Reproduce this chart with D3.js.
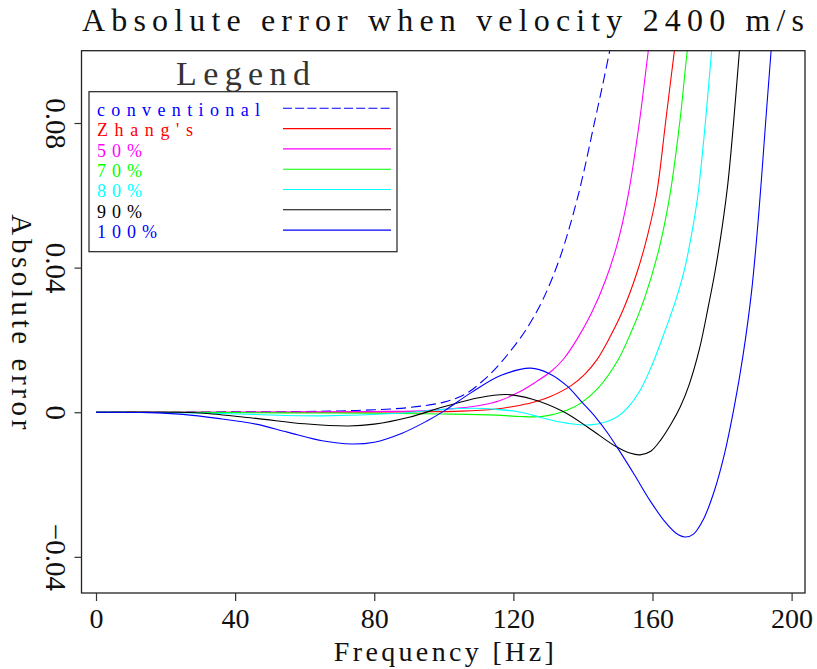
<!DOCTYPE html>
<html>
<head>
<meta charset="utf-8">
<script src="https://cdn.jsdelivr.net/npm/d3@7"></script>
<style>
  html, body { margin: 0; padding: 0; background: #fff; }
  svg { display: block; }
  text { font-family: "Liberation Serif", "DejaVu Serif", serif; }
</style>
</head>
<body>
<svg id="chart" width="817" height="669"></svg>
<script>
// Absolute dispersion error of the extrapolation operators, [frequency Hz, error]
const conventional = [[0,0],[20,0],[40,0.0001],[60,0.0002],[75,0.0005],[90,0.0013],[100,0.0028],[106,0.0049],[111,0.0085],[115,0.0122],[118.8,0.0165],[123.5,0.0226],[128.5,0.0312],[133.3,0.0425],[138.5,0.0595],[143.4,0.0805],[147.7,0.1],[150.5,0.115]];
const zhangs = [[0,0],[60,0],[90,0.0001],[105,0.0003],[115,0.0009],[120,0.0016],[125.5,0.0027],[130.5,0.0043],[136.5,0.0073],[140.5,0.0105],[144,0.0145],[147.5,0.0203],[151.5,0.0282],[155.5,0.0385],[158.6,0.049],[161.2,0.0605],[163.8,0.0805],[166.3,0.1],[167.8,0.111]];
const pct50 = [[0,0],[40,0],[60,0.0001],[80,0.0002],[95,0.0005],[105,0.0012],[111,0.002],[116,0.0032],[121.5,0.0055],[126.5,0.0084],[131,0.0114],[134.5,0.0148],[138.5,0.0205],[142.5,0.0275],[146.5,0.0365],[150,0.047],[153,0.06],[156.2,0.08],[158.8,0.1],[160.6,0.113]];
const pct70 = [[0,0],[40,-0.0001],[60,-0.0002],[80,-0.0003],[100,-0.0005],[115,-0.0008],[122,-0.0012],[128,-0.0012],[132,-0.0005],[135.5,0.0006],[139.5,0.0026],[144.5,0.0068],[150,0.0143],[153.7,0.0218],[157.7,0.0315],[161.7,0.0445],[165,0.06],[168,0.0815],[170,0.1],[171.7,0.112]];
const pct80 = [[0,0],[30,-0.0002],[45,-0.0006],[65,-0.001],[87,-0.0003],[100,0.0008],[108,0.0011],[115,0.0008],[121,0.0002],[125.5,-0.0008],[130.5,-0.0021],[136.5,-0.0032],[142,-0.0035],[146.5,-0.0027],[150,-0.0012],[153,0.0014],[156.3,0.0058],[159.5,0.0122],[163.6,0.0225],[166.7,0.031],[169.2,0.0395],[171.2,0.049],[173,0.0597],[175.1,0.079],[177,0.1],[178.2,0.112]];
const pct90 = [[0,0],[20,0],[30,-0.0002],[46,-0.0017],[60,-0.0032],[72.6,-0.0038],[80,-0.0033],[90,-0.0014],[100,0.0015],[110,0.004],[118,0.0049],[125.5,0.0036],[134.3,0.0002],[141.5,-0.0042],[149.5,-0.0095],[153.5,-0.0113],[156.4,-0.0118],[159.5,-0.0108],[162.5,-0.0075],[165.5,-0.003],[168,0.0015],[170.5,0.0075],[173.5,0.0175],[176,0.029],[178,0.039],[180,0.051],[181.7,0.0635],[183.3,0.08],[185,0.1],[186.2,0.113]];
const pct100 = [[0,0],[15,-0.0001],[25,-0.0006],[35,-0.0017],[46,-0.0033],[55,-0.0055],[65,-0.0079],[73.5,-0.0088],[80,-0.0083],[88,-0.0058],[95,-0.0025],[100,0.0003],[108,0.0055],[116.5,0.0102],[125,0.0122],[130.5,0.0106],[135.5,0.0072],[139.5,0.003],[143.5,-0.0012],[147,-0.0056],[150.5,-0.0107],[154.8,-0.0173],[159.2,-0.0243],[163.5,-0.0302],[166.7,-0.0334],[169.3,-0.0345],[171.8,-0.0337],[174.7,-0.0295],[177.7,-0.022],[180.7,-0.0115],[183.5,0.0015],[186,0.0155],[188.5,0.0335],[190.6,0.0555],[192.4,0.0785],[194.1,0.1],[195.3,0.115]];

const seriesNames = ["conventional", "Zhang's", "50%", "70%", "80%", "90%", "100%"];
const seriesData = [conventional, zhangs, pct50, pct70, pct80, pct90, pct100];
const seriesColors = ["#0000ff", "#ff0000", "#ff00ff", "#00ff00", "#00ffff", "#000000", "#0000ff"];
const seriesDashed = [true, false, false, false, false, false, false];

const xTicks = [0, 40, 80, 120, 160, 200];
const yTicks = [-0.04, 0, 0.04, 0.08];
const yTickLabels = ["\u22120.04", "0", "0.04", "0.08"];

const titleText = "Absolute error when velocity 2400 m/s";
const xLabel = "Frequency [Hz]";
const yLabel = "Absolute error";

const svg = d3.select("#chart");
const box = { left: 81.5, right: 805, top: 50.7, bottom: 593 };

const x = d3.scaleLinear().domain([-4.17, 203.85]).range([box.left, box.right]);
const y = d3.scaleLinear().domain([-0.05, 0.1]).range([box.bottom, box.top]);

// title
svg.append("text")
  .attr("x", 82).attr("y", 31)
  .attr("font-size", 32)
  .attr("textLength", 722).attr("lengthAdjust", "spacing")
  .attr("fill", "#111")
  .text(titleText);

// clip region for the curves
svg.append("defs").append("clipPath").attr("id", "plot-clip")
  .append("rect")
  .attr("x", box.left).attr("y", box.top)
  .attr("width", box.right - box.left).attr("height", box.bottom - box.top);

const line = d3.line()
  .x(d => x(d[0]))
  .y(d => y(d[1]))
  .curve(d3.curveCatmullRom.alpha(0.5));

const curves = svg.append("g").attr("clip-path", "url(#plot-clip)");
seriesData.forEach((data, i) => {
  curves.append("path")
    .datum(data)
    .attr("d", line)
    .attr("fill", "none")
    .attr("stroke", seriesColors[i])
    .attr("stroke-width", 1.1)
    .attr("stroke-dasharray", seriesDashed[i] ? "10,5" : null);
});

// frame
svg.append("rect")
  .attr("x", box.left).attr("y", box.top)
  .attr("width", box.right - box.left).attr("height", box.bottom - box.top)
  .attr("fill", "none").attr("stroke", "#222").attr("stroke-width", 1.3);

// x axis
const xAxis = svg.append("g")
  .attr("transform", `translate(0,${box.bottom})`)
  .call(d3.axisBottom(x).tickValues(xTicks).tickSize(8).tickFormat(d3.format("d")));
xAxis.select(".domain").remove();
xAxis.selectAll(".tick line").attr("stroke", "#333").attr("stroke-width", 1.2);
xAxis.selectAll(".tick text")
  .attr("font-family", "Liberation Serif, DejaVu Serif, serif")
  .attr("font-size", 28).attr("fill", "#111")
  .attr("dy", null).attr("y", 35);

// y axis with labels turned to read downward
const yAxis = svg.append("g")
  .attr("transform", `translate(${box.left},0)`)
  .call(d3.axisLeft(y).tickValues(yTicks).tickSize(7).tickFormat((d, i) => yTickLabels[i]));
yAxis.select(".domain").remove();
yAxis.selectAll(".tick line").attr("stroke", "#333").attr("stroke-width", 1.2);
yAxis.selectAll(".tick text")
  .attr("font-family", "Liberation Serif, DejaVu Serif, serif")
  .attr("font-size", 29).attr("fill", "#111")
  .attr("x", null).attr("dy", null)
  .attr("text-anchor", "middle")
  .attr("transform", "translate(-36,0) rotate(90)");

// axis titles
svg.append("text")
  .attr("x", (x(0) + x(200)) / 2).attr("y", 661)
  .attr("text-anchor", "middle")
  .attr("font-size", 28)
  .attr("textLength", 220).attr("lengthAdjust", "spacing")
  .attr("fill", "#111")
  .text(xLabel);

svg.append("text")
  .attr("transform", `translate(12,${(box.top + box.bottom) / 2}) rotate(90)`)
  .attr("text-anchor", "middle")
  .attr("font-size", 29)
  .attr("textLength", 215).attr("lengthAdjust", "spacing")
  .attr("fill", "#111")
  .text(yLabel);

// legend
svg.append("text")
  .attr("x", 176).attr("y", 85)
  .attr("font-size", 34)
  .attr("textLength", 134).attr("lengthAdjust", "spacing")
  .attr("fill", "#333")
  .text("Legend");

svg.append("rect")
  .attr("x", 89).attr("y", 91.7).attr("width", 308).attr("height", 160)
  .attr("fill", "#fff").attr("stroke", "#222").attr("stroke-width", 1.2);

const legendWidths = [163, 96, 45, 45, 45, 45, 60];
const legendRows = svg.append("g");
seriesNames.forEach((name, i) => {
  const base = 116 + i * 20.3;
  legendRows.append("text")
    .attr("x", 97).attr("y", base)
    .attr("font-size", 18)
    .attr("fill", seriesColors[i])
    .attr("textLength", legendWidths[i])
    .attr("lengthAdjust", "spacing")
    .text(name);
  legendRows.append("line")
    .attr("x1", 283).attr("x2", 391)
    .attr("y1", base - 7.7).attr("y2", base - 7.7)
    .attr("stroke", seriesColors[i])
    .attr("stroke-width", 1.1)
    .attr("stroke-dasharray", seriesDashed[i] ? "9,3.2" : null);
});
</script>
</body>
</html>
